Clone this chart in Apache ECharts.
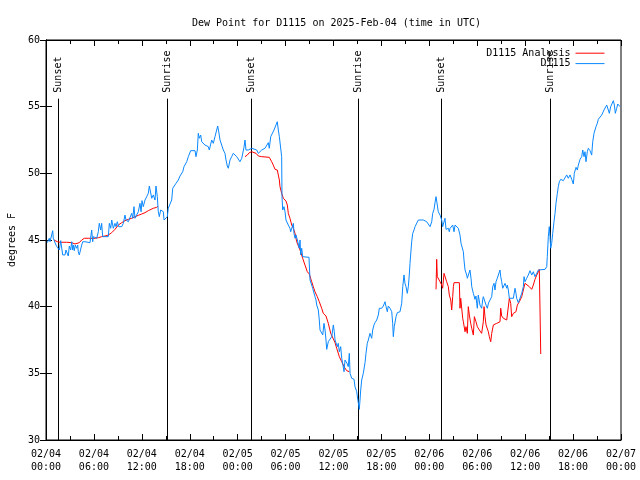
<!DOCTYPE html>
<html><head><meta charset="utf-8">
<script src="https://cdn.jsdelivr.net/npm/echarts@6/dist/echarts.min.js"></script>
<style>html,body{margin:0;padding:0;background:#fff}#c{width:640px;height:480px}</style>
</head><body><div id="c"></div>
<script>
const titleText = 'Dew Point for D1115 on 2025-Feb-04 (time in UTC)';
const yAxisName = 'degrees F';
const seriesNames = ['D1115 Analysis', 'D1115'];
const xTickLabels = ['02/04\n00:00','02/04\n06:00','02/04\n12:00','02/04\n18:00','02/05\n00:00','02/05\n06:00','02/05\n12:00','02/05\n18:00','02/06\n00:00','02/06\n06:00','02/06\n12:00','02/06\n18:00','02/07\n00:00'];
const sunEventHours = [1.56, 15.19, 25.63, 39.12, 49.50, 63.11];
const sunEventNames = ['Sunset','Sunrise','Sunset','Sunrise','Sunset','Sunrise'];
const sunLineTop = 55.6;

// hours since 2025-02-04 00:00 UTC
const obsHours = [
0.16,0.41,0.50,0.84,0.91,1.13,1.25,1.42,1.67,1.84,
1.97,2.09,2.38,2.50,2.67,2.79,2.92,3.09,3.22,3.34,
3.42,3.54,3.67,3.84,3.97,4.04,4.17,4.35,4.47,4.60,
4.88,5.10,5.51,5.72,5.85,5.92,6.14,6.35,6.55,6.67,
6.85,6.97,7.10,7.39,7.80,7.93,8.10,8.23,8.43,8.64,
8.77,8.93,9.10,9.27,9.48,9.68,9.89,10.02,10.18,10.31,
10.52,10.73,10.86,11.02,11.14,11.36,11.56,11.77,11.90,12.02,
12.18,12.40,12.61,12.81,12.94,13.02,13.24,13.44,13.65,13.77,
13.94,14.06,14.19,14.36,14.53,14.69,14.78,15.03,15.19,15.31,
15.53,15.74,15.87,16.07,16.28,16.57,16.78,16.99,17.12,17.28,
17.41,17.62,17.82,17.94,18.12,18.66,18.78,18.95,19.07,19.20,
19.37,19.50,19.70,19.91,20.12,20.32,20.45,20.62,20.75,20.95,
21.16,21.38,21.50,21.63,21.79,22.00,22.20,22.41,22.54,22.70,
22.83,23.04,23.25,23.45,23.67,23.88,24.08,24.29,24.51,24.71,
24.79,24.92,25.04,25.21,25.33,25.55,25.76,25.96,26.38,26.59,
26.80,27.01,27.21,27.42,27.64,27.84,27.96,28.14,28.39,28.55,
28.72,28.80,28.96,29.09,29.22,29.39,29.51,29.55,29.64,29.80,
29.93,30.05,30.22,30.34,30.55,30.64,30.77,30.97,31.05,31.18,
31.31,31.47,31.59,31.72,31.81,31.89,32.02,32.14,32.93,33.06,
33.27,33.39,33.56,33.68,33.81,33.90,34.10,34.22,34.31,34.52,
34.65,34.81,34.94,35.06,35.15,35.35,35.56,35.78,35.98,36.10,
36.19,36.40,36.48,36.60,36.73,36.90,37.03,37.15,37.32,37.44,
37.57,37.69,37.85,37.98,38.07,38.28,38.57,38.69,38.91,38.98,
39.11,39.23,39.32,39.41,39.53,39.73,39.95,40.07,40.23,40.36,
40.57,40.78,40.91,41.07,41.20,41.41,41.61,41.74,42.04,42.24,
42.45,42.58,42.74,42.86,43.08,43.29,43.41,43.49,43.61,43.83,
43.99,44.33,44.54,44.67,44.83,44.95,45.08,45.24,45.37,45.49,
45.58,45.71,45.79,45.92,46.08,46.21,46.42,46.62,46.83,47.25,
47.67,47.87,48.09,48.30,48.42,48.59,48.71,48.84,49.00,49.12,
49.34,49.55,49.67,49.84,49.96,50.09,50.38,50.50,50.59,50.93,
51.09,51.22,51.43,51.63,51.84,51.97,52.26,52.34,52.47,52.68,
52.76,53.01,53.09,53.22,53.31,53.51,53.72,53.84,53.93,54.01,
54.13,54.34,54.55,54.68,54.76,54.97,55.10,55.26,55.41,55.60,
55.81,55.94,56.10,56.22,56.35,56.51,56.64,56.76,56.85,56.94,
57.06,57.19,57.35,57.48,57.69,57.77,57.89,58.02,58.52,58.73,
58.85,58.94,59.14,59.35,59.57,59.77,59.86,59.98,60.19,60.39,
60.61,60.82,61.02,61.23,61.45,61.65,61.86,62.49,62.70,62.77,
62.90,63.02,63.11,63.20,63.32,63.45,63.61,63.74,63.86,64.03,
64.15,64.28,64.45,64.58,64.78,64.99,65.20,65.40,65.62,65.83,
66.03,66.15,66.37,66.53,66.66,66.87,67.08,67.21,67.37,67.49,
67.62,67.78,67.91,68.12,68.33,68.46,68.62,68.75,68.87,69.03,
69.16,69.37,69.58,69.71,69.87,70.04,70.21,70.41,70.54,70.71,
70.83,71.04,71.17,71.29,71.46,71.59,71.71,71.88];
const obsDewpoint = [
44.80,45.13,44.87,45.70,45.13,45.25,44.62,44.45,44.25,44.95,
44.95,43.88,43.88,44.25,44.25,43.80,44.55,44.25,44.87,44.25,
44.62,44.20,44.62,44.38,44.62,44.12,43.88,43.80,44.62,44.87,
44.87,44.80,44.80,45.75,44.87,45.25,45.17,45.13,45.62,46.25,
45.75,46.25,45.25,45.25,45.25,46.25,45.88,46.50,45.88,46.25,
46.00,46.37,46.00,46.12,46.00,46.25,46.87,46.50,46.63,46.37,
46.50,47.00,46.63,47.50,46.63,46.75,47.12,47.75,47.12,47.95,
47.50,48.00,48.25,48.50,49.05,49.00,48.13,48.38,48.00,49.05,
48.25,47.12,46.75,47.25,47.38,47.12,46.50,46.50,46.75,47.38,
47.38,48.00,48.88,49.00,49.25,49.50,49.80,49.70,50.12,50.50,
50.38,50.87,51.25,51.37,51.70,51.70,51.25,51.75,53.00,52.63,
52.87,52.37,52.50,52.12,52.25,52.00,51.75,51.88,52.50,52.25,
52.75,52.87,53.55,53.12,52.50,52.12,51.75,51.50,51.00,50.55,
50.38,51.00,51.25,51.50,51.62,51.25,51.13,50.87,51.13,51.25,
51.95,52.50,51.75,51.88,51.75,51.62,51.88,51.88,51.75,51.50,
51.50,51.75,51.62,51.88,52.00,52.30,51.88,52.75,52.87,53.25,
53.25,53.38,53.87,53.25,52.75,52.63,51.25,48.25,47.25,47.50,
47.12,46.50,46.37,46.12,45.88,45.62,45.50,46.25,45.50,45.13,
45.38,45.00,45.13,44.38,45.00,43.88,44.38,43.75,43.70,42.00,
41.62,41.38,41.25,40.75,40.50,40.12,39.75,39.00,38.25,38.25,
37.88,38.75,38.25,37.50,36.80,37.37,37.25,37.75,38.63,38.12,
37.50,37.37,37.00,37.25,36.62,37.00,36.13,35.75,35.12,36.00,
36.00,35.75,35.50,36.50,35.00,34.63,34.55,34.00,33.62,33.30,
33.25,32.30,33.00,33.75,34.50,35.00,35.80,36.50,37.25,37.50,
38.00,37.63,38.25,38.63,38.80,39.00,39.37,39.88,39.88,40.05,
40.37,40.00,39.62,40.05,39.88,39.62,38.75,37.75,38.50,39.25,
39.55,39.62,40.25,41.50,42.38,41.75,41.50,41.00,41.50,42.38,
43.25,44.25,44.87,45.50,45.75,46.00,46.05,46.50,46.55,46.50,
46.37,46.25,46.00,46.37,47.00,47.30,47.80,48.25,48.20,47.12,
46.87,46.50,46.00,46.00,46.63,45.80,45.88,45.62,45.88,46.12,
45.62,46.12,46.00,45.88,45.37,44.75,44.12,43.50,42.75,42.37,
42.13,42.25,42.75,42.13,41.50,41.00,40.55,40.80,40.25,39.88,
40.87,40.12,39.88,40.50,40.75,40.63,40.12,39.88,40.27,40.37,
40.75,41.50,41.75,41.25,41.87,42.13,42.00,42.13,42.75,42.25,
41.87,41.38,41.50,41.75,41.38,41.62,41.25,40.63,40.63,41.38,
41.00,40.63,40.30,40.63,41.00,41.50,42.25,41.87,42.13,42.37,
42.70,42.37,42.62,42.25,42.50,42.75,42.80,42.80,43.00,43.75,
45.25,46.00,45.25,44.38,44.75,45.50,46.37,47.00,47.75,48.50,
49.00,49.37,49.55,49.63,49.45,49.50,49.88,49.63,49.88,49.55,
49.20,50.00,50.45,50.25,50.62,51.05,51.25,51.75,51.25,51.62,
50.87,51.62,51.88,51.70,51.37,52.37,53.00,53.05,53.50,53.75,
54.05,54.20,54.37,54.50,54.75,54.88,55.12,54.75,54.50,55.00,
54.88,55.45,55.12,54.50,54.88,55.20,55.05,55.00];

const anaHours = [
1.00,1.42,1.75,2.59,3.22,3.63,3.84,4.17,4.47,4.80,
5.30,5.51,6.14,6.55,6.97,7.39,7.80,8.23,8.64,9.05,
9.48,9.89,10.31,10.73,11.14,11.56,11.98,12.40,12.81,13.02,
13.44,13.86,14.02,14.50,
24.92,25.21,25.46,25.76,25.96,26.30,26.59,27.01,27.96,28.26,
28.46,28.68,28.96,29.09,29.22,29.30,29.51,29.72,30.05,30.22,
30.34,30.55,30.77,30.97,31.18,31.39,31.81,32.14,32.43,32.72,
32.97,33.27,33.47,33.68,33.97,34.22,34.52,34.72,35.06,35.35,
35.65,35.90,36.19,36.40,36.73,37.03,37.32,37.65,37.98,40.00,
48.84,48.92,49.00,49.12,49.34,49.55,49.67,49.84,50.00,50.17,
50.38,50.50,50.68,50.80,50.93,51.01,51.09,51.76,51.84,51.93,
52.05,52.18,52.26,52.47,52.59,52.76,52.88,53.01,53.18,53.31,
53.51,53.64,53.84,54.01,54.26,54.55,54.76,54.85,54.97,55.10,
55.26,55.39,55.51,55.69,55.81,56.02,56.44,56.85,56.94,57.06,
57.27,57.69,57.89,58.02,58.19,58.31,58.52,58.85,59.02,59.27,
59.57,59.77,59.98,60.19,60.52,60.82,61.02,61.23,61.45,61.65,
61.77,61.86,61.95];
const anaDewpoint = [
45.00,44.87,44.83,44.83,44.80,44.70,44.62,44.80,45.00,45.13,
45.13,45.05,45.13,45.17,45.25,45.30,45.37,45.55,45.80,46.12,
46.30,46.45,46.55,46.63,46.75,46.85,46.95,47.05,47.20,47.25,
47.38,47.45,47.55,null,
51.25,51.37,51.55,51.62,51.55,51.50,51.30,51.25,51.20,50.87,
50.62,50.30,50.25,49.87,49.50,49.00,48.50,48.13,47.92,47.62,
47.00,46.63,46.12,45.88,45.50,44.87,44.25,43.63,43.12,42.62,
42.45,41.87,41.50,41.12,40.75,40.37,39.88,39.50,39.30,38.75,
38.00,37.87,37.30,36.88,36.25,35.87,35.50,35.20,35.12,null,
41.30,43.55,42.25,42.13,41.87,41.62,41.38,42.50,42.37,41.87,
41.50,40.87,40.50,39.75,40.75,41.50,41.80,41.80,39.88,40.63,
40.50,39.13,38.87,38.12,38.50,38.00,40.00,39.37,38.75,38.38,
37.87,39.25,38.87,38.50,38.25,38.00,38.87,40.00,39.25,38.63,
38.50,38.12,37.75,37.37,38.00,38.63,38.75,38.87,39.88,39.30,
39.13,39.00,38.87,40.63,40.25,39.25,39.50,39.62,40.12,40.37,
40.75,41.25,41.75,41.62,41.50,41.30,41.62,42.05,42.37,42.62,
42.80,39.75,36.45];

const FONT = '"DejaVu Sans Mono", monospace';
const xMin = 0, xMax = 72, yMin = 30, yMax = 60;

const chart = echarts.init(document.getElementById('c'), null, {renderer: 'canvas'});
const tickStyle = {show: true, inside: true, length: 6, lineStyle: {color: '#000', width: 1}};
const minorStyle = {show: true, splitNumber: 2, length: 4, lineStyle: {color: '#000', width: 1}};
chart.setOption({
  animation: false,
  backgroundColor: '#fff',
  title: {text: titleText, left: 187, top: 13, textStyle: {fontFamily: FONT, fontSize: 10, fontWeight: 'normal', color: '#000'}},
  legend: {
    orient: 'vertical', right: 30, top: 43, align: 'right', itemWidth: 29, itemHeight: 13, itemGap: 0,
    itemStyle: {opacity: 0},
    lineStyle: {width: 1},
    textStyle: {fontFamily: FONT, fontSize: 10, color: '#000'},
    data: seriesNames
  },
  grid: {left: 46, right: 19, top: 40, bottom: 40, show: true, borderColor: '#000', borderWidth: 1,
         backgroundColor: 'transparent', containLabel: false, outerBoundsMode: 'none'},
  xAxis: [
    {type: 'value', min: xMin, max: xMax, interval: 6, position: 'bottom',
     axisLine: {show: true, lineStyle: {color: '#000'}}, axisTick: tickStyle, minorTick: minorStyle,
     splitLine: {show: false},
     axisLabel: {fontFamily: FONT, fontSize: 10, color: '#000', margin: 8, lineHeight: 13,
       formatter: v => xTickLabels[Math.round(v / 6)]}},
    {type: 'value', min: xMin, max: xMax, interval: 6, position: 'top',
     axisLine: {show: true, lineStyle: {color: '#000'}}, axisTick: tickStyle, minorTick: minorStyle,
     splitLine: {show: false}, axisLabel: {show: false}}
  ],
  yAxis: [
    {type: 'value', min: yMin, max: yMax, interval: 5, position: 'left',
     name: yAxisName, nameLocation: 'middle', nameGap: 28, nameRotate: 90,
     nameTextStyle: {fontFamily: FONT, fontSize: 10, color: '#000'},
     axisLine: {show: true, lineStyle: {color: '#000'}}, axisTick: tickStyle,
     splitLine: {show: false},
     axisLabel: {fontFamily: FONT, fontSize: 10, color: '#000', margin: 6}},
    {type: 'value', min: yMin, max: yMax, interval: 5, position: 'right',
     axisLine: {show: true, lineStyle: {color: '#000'}}, axisTick: tickStyle,
     splitLine: {show: false}, axisLabel: {show: false}}
  ],
  series: [
    {type: 'custom', name: 'sun', xAxisIndex: 0, yAxisIndex: 0, silent: true, z: 1,
     data: sunEventHours.map(h => [h]),
     encode: {x: 0},
     renderItem: function (params, api) {
       const h = api.value(0);
       const pb = api.coord([h, yMin]);
       const pt = api.coord([h, sunLineTop]);
       const x = Math.round(pb[0]) + 0.5;
       return {type: 'group', children: [
         {type: 'line', shape: {x1: x, y1: pb[1], x2: x, y2: pt[1]}, style: {stroke: '#000', lineWidth: 1}},
         {type: 'text', x: x, y: pt[1] - 6, rotation: Math.PI / 2,
          style: {text: sunEventNames[params.dataIndex], font: '10px ' + FONT, fill: '#000', align: 'left', verticalAlign: 'middle'}}
       ]};
     }},
    {type: 'line', name: seriesNames[0], xAxisIndex: 0, yAxisIndex: 0, symbol: 'none', z: 2,
     connectNulls: false, color: '#ff0000', lineStyle: {width: 1, color: '#ff0000'},
     data: anaHours.map((h, i) => [h, anaDewpoint[i]])},
    {type: 'line', name: seriesNames[1], xAxisIndex: 0, yAxisIndex: 0, symbol: 'none', z: 3,
     color: '#0a88ff', lineStyle: {width: 1, color: '#0a88ff'},
     data: obsHours.map((h, i) => [h, obsDewpoint[i]])}
  ]
});
</script>
</body></html>
